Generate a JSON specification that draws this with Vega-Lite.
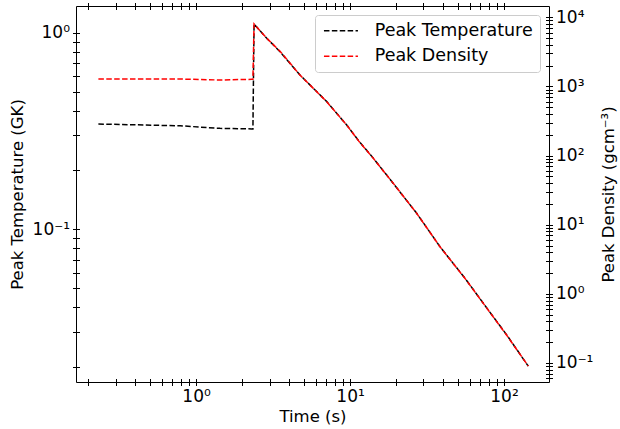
{
  "$schema": "https://vega.github.io/schema/vega-lite/v6.json",
  "width": 473,
  "height": 376,
  "autosize": {"type": "none"},
  "padding": {"left": 76, "top": 6, "right": 71, "bottom": 47},
  "config": {
    "view": {"stroke": "black", "strokeWidth": 1},
    "font": "DejaVu Sans",
    "axis": {
      "domain": false, "grid": false, "offset": -3.5, "tickSize": 7,
      "tickColor": "black", "tickWidth": 1,
      "labelFont": "DejaVu Sans", "labelFontSize": 17, "labelColor": "black",
      "titleFont": "DejaVu Sans", "titleFontSize": 16.5, "titleFontWeight": "normal", "titleColor": "black",
      "labelOverlap": false, "labelFlush": false, "labelBound": false, "labelPadding": 3
    },
    "legend": {
      "orient": "top-right", "offset": 9, "padding": 7,
      "strokeColor": "#cccccc", "fillColor": "rgba(255,255,255,0.8)", "cornerRadius": 3,
      "symbolType": "M-2.5,0H2.5", "symbolSize": 185, "symbolStrokeWidth": 1.5, "symbolDash": [5.5, 2.4],
      "symbolOffset": 10.2,
      "labelFont": "DejaVu Sans", "labelFontSize": 17.5, "labelColor": "black", "labelOffset": 25,
      "rowPadding": 6.5
    }
  },
  "datasets": {
    "temp": [
      {"t": 0.232, "T": 0.343}, {"t": 0.787, "T": 0.336}, {"t": 1.43, "T": 0.326},
      {"t": 2.30, "T": 0.324}, {"t": 2.34, "T": 0.324}, {"t": 2.38, "T": 1.107},
      {"t": 2.88, "T": 0.936}, {"t": 3.51, "T": 0.80}, {"t": 4.73, "T": 0.609},
      {"t": 7.06, "T": 0.446}, {"t": 9.52, "T": 0.339}, {"t": 11.49, "T": 0.279},
      {"t": 14.16, "T": 0.230}, {"t": 19.1, "T": 0.171}, {"t": 27.1, "T": 0.1205},
      {"t": 38.4, "T": 0.0815}, {"t": 55.8, "T": 0.0563}, {"t": 73.4, "T": 0.0420},
      {"t": 104.1, "T": 0.0290}, {"t": 143.8, "T": 0.0201}
    ],
    "dens": [
      {"t": 0.232, "rho": 1280}, {"t": 0.787, "rho": 1280}, {"t": 1.43, "rho": 1239},
      {"t": 2.30, "rho": 1268}, {"t": 2.34, "rho": 1268}, {"t": 2.38, "rho": 8000},
      {"t": 2.88, "rho": 4970}, {"t": 3.51, "rho": 3230}, {"t": 4.73, "rho": 1462},
      {"t": 7.06, "rho": 600}, {"t": 9.52, "rho": 276}, {"t": 11.49, "rho": 158},
      {"t": 14.16, "rho": 91.2}, {"t": 19.1, "rho": 39.6}, {"t": 27.1, "rho": 14.6},
      {"t": 38.4, "rho": 4.79}, {"t": 55.8, "rho": 1.67}, {"t": 73.4, "rho": 0.726},
      {"t": 104.1, "rho": 0.252}, {"t": 143.8, "rho": 0.090}
    ]
  },
  "layer": [
    {
      "data": {"name": "temp"},
      "mark": {"type": "line", "strokeDash": [5.5, 2.4], "strokeWidth": 1.5, "clip": true},
      "encoding": {
        "x": {
          "field": "t", "type": "quantitative",
          "scale": {"type": "log", "domain": [0.166, 196], "nice": false},
          "axis": {
            "orient": "bottom", "title": "Time (s)",
            "values": [0.2,0.3,0.4,0.5,0.6,0.7,0.8,0.9,1,2,3,4,5,6,7,8,9,10,20,30,40,50,60,70,80,90,100],
            "labelExpr": "datum.value == 1 ? '10⁰' : datum.value == 10 ? '10¹' : datum.value == 100 ? '10²' : ''"
          }
        },
        "y": {
          "field": "T", "type": "quantitative",
          "scale": {"type": "log", "domain": [0.0167, 1.367], "nice": false},
          "axis": {
            "orient": "left", "title": "Peak Temperature (GK)", "titlePadding": 7,
            "values": [0.02,0.03,0.04,0.05,0.06,0.07,0.08,0.09,0.1,0.2,0.3,0.4,0.5,0.6,0.7,0.8,0.9,1],
            "labelExpr": "datum.value == 1 ? '10⁰' : datum.value == 0.1 ? '10⁻¹' : ''"
          }
        },
        "color": {
          "datum": "Peak Temperature", "type": "nominal",
          "scale": {"domain": ["Peak Temperature", "Peak Density"], "range": ["#000000", "#ff0000"]},
          "legend": {"title": null}
        }
      }
    },
    {
      "data": {"name": "dens"},
      "mark": {"type": "line", "strokeDash": [5.5, 2.4], "strokeWidth": 1.5, "clip": true},
      "encoding": {
        "x": {
          "field": "t", "type": "quantitative",
          "scale": {"type": "log", "domain": [0.166, 196], "nice": false},
          "axis": {
            "orient": "top", "title": null, "labels": false,
            "values": [0.2,0.3,0.4,0.5,0.6,0.7,0.8,0.9,1,2,3,4,5,6,7,8,9,10,20,30,40,50,60,70,80,90,100]
          }
        },
        "y": {
          "field": "rho", "type": "quantitative",
          "scale": {"type": "log", "domain": [0.053, 14580], "nice": false},
          "axis": {
            "orient": "right", "title": "Peak Density (gcm⁻³)", "titleAngle": 270, "titlePadding": 24,
            "values": [0.06,0.07,0.08,0.09,0.1,0.2,0.3,0.4,0.5,0.6,0.7,0.8,0.9,1,2,3,4,5,6,7,8,9,10,20,30,40,50,60,70,80,90,100,200,300,400,500,600,700,800,900,1000,2000,3000,4000,5000,6000,7000,8000,9000,10000],
            "labelExpr": "datum.value == 0.1 ? '10⁻¹' : datum.value == 1 ? '10⁰' : datum.value == 10 ? '10¹' : datum.value == 100 ? '10²' : datum.value == 1000 ? '10³' : datum.value == 10000 ? '10⁴' : ''"
          }
        },
        "color": {"datum": "Peak Density", "type": "nominal", "legend": {"title": null}}
      }
    }
  ],
  "resolve": {"scale": {"y": "independent"}, "axis": {"x": "independent", "y": "independent"}}
}
